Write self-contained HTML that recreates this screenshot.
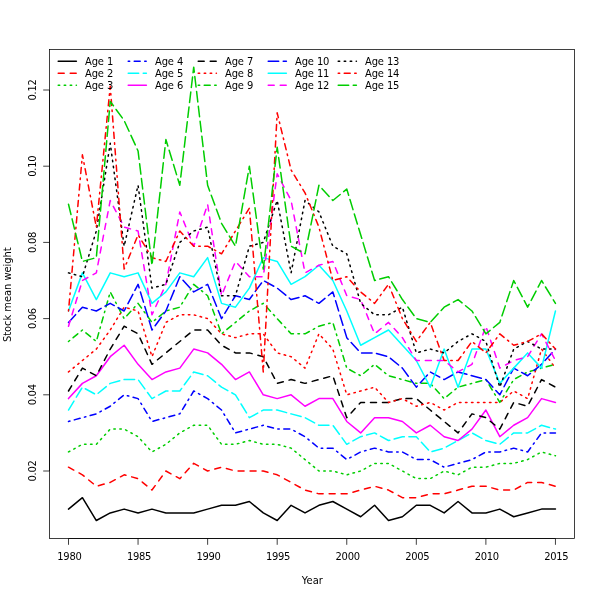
<!DOCTYPE html><html><head><meta charset="utf-8"><title>Stock mean weight</title><style>html,body{margin:0;padding:0;background:#fff}body{width:600px;height:600px;overflow:hidden}</style></head><body><svg width="600" height="600" viewBox="0 0 600 600" style="display:block">
<rect width="600" height="600" fill="#fff"/>
<g fill="none" stroke-width="1.5" stroke-linecap="round" stroke-linejoin="round">
<polyline points="68.50,509.10 82.41,497.67 96.33,520.53 110.24,512.91 124.15,509.10 138.06,512.91 151.98,509.10 165.89,512.91 179.80,512.91 193.72,512.91 207.63,509.10 221.54,505.29 235.46,505.29 249.37,501.48 263.28,512.91 277.19,520.53 291.11,505.29 305.02,512.91 318.93,505.29 332.85,501.48 346.76,509.10 360.67,516.72 374.59,505.29 388.50,520.53 402.41,516.72 416.32,505.29 430.24,505.29 444.15,512.91 458.06,501.48 471.98,512.91 485.89,512.91 499.80,509.10 513.72,516.72 527.63,512.91 541.54,509.10 555.45,509.10" stroke="#000000"/>
<polyline points="68.50,467.19 82.41,474.81 96.33,486.24 110.24,482.43 124.15,474.81 138.06,478.62 151.98,490.05 165.89,471.00 179.80,478.62 193.72,463.38 207.63,471.00 221.54,467.19 235.46,471.00 249.37,471.00 263.28,471.00 277.19,474.81 291.11,482.43 305.02,490.05 318.93,493.86 332.85,493.86 346.76,493.86 360.67,490.05 374.59,486.24 388.50,490.05 402.41,497.67 416.32,497.67 430.24,493.86 444.15,493.86 458.06,490.05 471.98,486.24 485.89,486.24 499.80,490.05 513.72,490.05 527.63,482.43 541.54,482.43 555.45,486.24" stroke="#ff0000" stroke-dasharray="6.0,6.0"/>
<polyline points="68.50,451.95 82.41,444.33 96.33,444.33 110.24,429.09 124.15,429.09 138.06,436.71 151.98,451.95 165.89,444.33 179.80,432.90 193.72,425.28 207.63,425.28 221.54,444.33 235.46,444.33 249.37,440.52 263.28,444.33 277.19,444.33 291.11,448.14 305.02,459.57 318.93,471.00 332.85,471.00 346.76,474.81 360.67,471.00 374.59,463.38 388.50,463.38 402.41,471.00 416.32,478.62 430.24,478.62 444.15,471.00 458.06,474.81 471.98,467.19 485.89,467.19 499.80,463.38 513.72,463.38 527.63,459.57 541.54,451.95 555.45,455.76" stroke="#00cd00" stroke-dasharray="1.5,4.5"/>
<polyline points="68.50,421.47 82.41,417.66 96.33,413.85 110.24,406.23 124.15,394.80 138.06,398.61 151.98,421.47 165.89,417.66 179.80,413.85 193.72,390.99 207.63,398.61 221.54,410.04 235.46,432.90 249.37,429.09 263.28,425.28 277.19,429.09 291.11,429.09 305.02,436.71 318.93,448.14 332.85,448.14 346.76,459.57 360.67,451.95 374.59,448.14 388.50,451.95 402.41,451.95 416.32,459.57 430.24,459.57 444.15,467.19 458.06,463.38 471.98,459.57 485.89,451.95 499.80,451.95 513.72,448.14 527.63,451.95 541.54,432.90 555.45,432.90" stroke="#0000ff" stroke-dasharray="1.5,4.5,6.0,4.5"/>
<polyline points="68.50,410.04 82.41,387.18 96.33,394.80 110.24,383.37 124.15,379.56 138.06,379.56 151.98,398.61 165.89,390.99 179.80,390.99 193.72,371.94 207.63,375.75 221.54,387.18 235.46,394.80 249.37,417.66 263.28,410.04 277.19,410.04 291.11,413.85 305.02,417.66 318.93,425.28 332.85,425.28 346.76,444.33 360.67,436.71 374.59,432.90 388.50,440.52 402.41,436.71 416.32,436.71 430.24,451.95 444.15,448.14 458.06,440.52 471.98,432.90 485.89,440.52 499.80,444.33 513.72,432.90 527.63,432.90 541.54,425.28 555.45,429.09" stroke="#00ffff" stroke-dasharray="10.5,4.5"/>
<polyline points="68.50,398.61 82.41,383.37 96.33,375.75 110.24,356.70 124.15,345.27 138.06,364.32 151.98,379.56 165.89,371.94 179.80,368.13 193.72,349.08 207.63,352.89 221.54,364.32 235.46,379.56 249.37,371.94 263.28,394.80 277.19,398.61 291.11,394.80 305.02,406.23 318.93,398.61 332.85,398.61 346.76,421.47 360.67,432.90 374.59,417.66 388.50,417.66 402.41,421.47 416.32,432.90 430.24,425.28 444.15,436.71 458.06,440.52 471.98,429.09 485.89,410.04 499.80,436.71 513.72,425.28 527.63,417.66 541.54,398.61 555.45,402.42" stroke="#ff00ff"/>
<polyline points="68.50,390.99 82.41,368.13 96.33,375.75 110.24,349.08 124.15,326.22 138.06,333.84 151.98,364.32 165.89,352.89 179.80,341.46 193.72,330.03 207.63,330.03 221.54,345.27 235.46,352.89 249.37,352.89 263.28,356.70 277.19,383.37 291.11,379.56 305.02,383.37 318.93,379.56 332.85,375.75 346.76,417.66 360.67,402.42 374.59,402.42 388.50,402.42 402.41,398.61 416.32,398.61 430.24,410.04 444.15,421.47 458.06,432.90 471.98,413.85 485.89,417.66 499.80,429.09 513.72,402.42 527.63,406.23 541.54,379.56 555.45,387.18" stroke="#000000" stroke-dasharray="6.0,6.0"/>
<polyline points="68.50,371.94 82.41,360.51 96.33,349.08 110.24,330.03 124.15,307.17 138.06,310.98 151.98,356.70 165.89,322.41 179.80,314.79 193.72,314.79 207.63,318.60 221.54,333.84 235.46,337.65 249.37,333.84 263.28,333.84 277.19,352.89 291.11,356.70 305.02,368.13 318.93,333.84 332.85,349.08 346.76,394.80 360.67,390.99 374.59,387.18 388.50,402.42 402.41,398.61 416.32,406.23 430.24,402.42 444.15,410.04 458.06,402.42 471.98,402.42 485.89,402.42 499.80,402.42 513.72,390.99 527.63,398.61 541.54,349.08 555.45,368.13" stroke="#ff0000" stroke-dasharray="1.5,4.5"/>
<polyline points="68.50,341.46 82.41,330.03 96.33,341.46 110.24,291.93 124.15,318.60 138.06,303.36 151.98,322.41 165.89,310.98 179.80,307.17 193.72,284.31 207.63,295.74 221.54,333.84 235.46,322.41 249.37,310.98 263.28,303.36 277.19,318.60 291.11,333.84 305.02,333.84 318.93,326.22 332.85,322.41 346.76,368.13 360.67,375.75 374.59,364.32 388.50,375.75 402.41,379.56 416.32,383.37 430.24,383.37 444.15,398.61 458.06,387.18 471.98,383.37 485.89,379.56 499.80,402.42 513.72,379.56 527.63,371.94 541.54,368.13 555.45,364.32" stroke="#00cd00" stroke-dasharray="1.5,4.5,6.0,4.5"/>
<polyline points="68.50,322.41 82.41,307.17 96.33,310.98 110.24,303.36 124.15,310.98 138.06,284.31 151.98,330.03 165.89,310.98 179.80,276.69 193.72,291.93 207.63,284.31 221.54,318.60 235.46,295.74 249.37,299.55 263.28,280.50 277.19,288.12 291.11,299.55 305.02,295.74 318.93,303.36 332.85,291.93 346.76,337.65 360.67,352.89 374.59,352.89 388.50,356.70 402.41,368.13 416.32,387.18 430.24,371.94 444.15,379.56 458.06,371.94 471.98,375.75 485.89,379.56 499.80,394.80 513.72,368.13 527.63,375.75 541.54,364.32 555.45,349.08" stroke="#0000ff" stroke-dasharray="10.5,4.5"/>
<polyline points="68.50,310.98 82.41,272.88 96.33,299.55 110.24,272.88 124.15,276.69 138.06,272.88 151.98,303.36 165.89,291.93 179.80,272.88 193.72,276.69 207.63,257.64 221.54,303.36 235.46,307.17 249.37,288.12 263.28,257.64 277.19,261.45 291.11,284.31 305.02,276.69 318.93,265.26 332.85,280.50 346.76,310.98 360.67,345.27 374.59,337.65 388.50,330.03 402.41,345.27 416.32,360.51 430.24,387.18 444.15,349.08 458.06,387.18 471.98,349.08 485.89,349.08 499.80,383.37 513.72,368.13 527.63,352.89 541.54,368.13 555.45,310.98" stroke="#00ffff"/>
<polyline points="68.50,326.22 82.41,280.50 96.33,272.88 110.24,200.49 124.15,227.16 138.06,230.97 151.98,314.79 165.89,284.31 179.80,211.92 193.72,246.21 207.63,204.30 221.54,295.74 235.46,261.45 249.37,276.69 263.28,276.69 277.19,173.82 291.11,200.49 305.02,272.88 318.93,265.26 332.85,261.45 346.76,295.74 360.67,299.55 374.59,333.84 388.50,322.41 402.41,337.65 416.32,360.51 430.24,360.51 444.15,360.51 458.06,371.94 471.98,364.32 485.89,326.22 499.80,368.13 513.72,360.51 527.63,356.70 541.54,333.84 555.45,360.51" stroke="#ff00ff" stroke-dasharray="6.0,6.0"/>
<polyline points="68.50,272.88 82.41,276.69 96.33,230.97 110.24,143.34 124.15,246.21 138.06,185.25 151.98,288.12 165.89,284.31 179.80,242.40 193.72,230.97 207.63,227.16 221.54,295.74 235.46,295.74 249.37,246.21 263.28,242.40 277.19,200.49 291.11,272.88 305.02,200.49 318.93,211.92 332.85,246.21 346.76,253.83 360.67,303.36 374.59,314.79 388.50,314.79 402.41,307.17 416.32,352.89 430.24,349.08 444.15,352.89 458.06,341.46 471.98,333.84 485.89,341.46 499.80,387.18 513.72,349.08 527.63,341.46 541.54,349.08 555.45,349.08" stroke="#000000" stroke-dasharray="1.5,4.5"/>
<polyline points="68.50,310.98 82.41,154.77 96.33,227.16 110.24,86.19 124.15,269.07 138.06,234.78 151.98,257.64 165.89,261.45 179.80,230.97 193.72,246.21 207.63,246.21 221.54,253.83 235.46,230.97 249.37,208.11 263.28,371.94 277.19,112.86 291.11,170.01 305.02,192.87 318.93,227.16 332.85,280.50 346.76,276.69 360.67,291.93 374.59,303.36 388.50,284.31 402.41,318.60 416.32,341.46 430.24,322.41 444.15,360.51 458.06,360.51 471.98,341.46 485.89,352.89 499.80,333.84 513.72,345.27 527.63,341.46 541.54,333.84 555.45,349.08" stroke="#ff0000" stroke-dasharray="1.5,4.5,6.0,4.5"/>
<polyline points="68.50,204.30 82.41,261.45 96.33,257.64 110.24,101.43 124.15,120.48 138.06,150.96 151.98,265.26 165.89,139.53 179.80,185.25 193.72,67.14 207.63,185.25 221.54,223.35 235.46,246.21 249.37,166.20 263.28,269.07 277.19,147.15 291.11,246.21 305.02,253.83 318.93,185.25 332.85,200.49 346.76,189.06 360.67,234.78 374.59,280.50 388.50,276.69 402.41,299.55 416.32,318.60 430.24,322.41 444.15,307.17 458.06,299.55 471.98,310.98 485.89,333.84 499.80,322.41 513.72,280.50 527.63,307.17 541.54,280.50 555.45,303.36" stroke="#00cd00" stroke-dasharray="10.5,4.5"/>
</g>
<g fill="none" stroke="#000" stroke-width="0.75">
<line x1="68.50" y1="538.5" x2="555.45" y2="538.5"/>
<line x1="49.5" y1="471.00" x2="49.5" y2="90.00"/>
<rect x="49.5" y="49.5" width="525" height="489"/>
<line x1="68.50" y1="538.5" x2="68.50" y2="544.8"/>
<line x1="138.06" y1="538.5" x2="138.06" y2="544.8"/>
<line x1="207.63" y1="538.5" x2="207.63" y2="544.8"/>
<line x1="277.19" y1="538.5" x2="277.19" y2="544.8"/>
<line x1="346.76" y1="538.5" x2="346.76" y2="544.8"/>
<line x1="416.32" y1="538.5" x2="416.32" y2="544.8"/>
<line x1="485.89" y1="538.5" x2="485.89" y2="544.8"/>
<line x1="555.45" y1="538.5" x2="555.45" y2="544.8"/>
<line x1="49.5" y1="471.00" x2="43.2" y2="471.00"/>
<line x1="49.5" y1="394.80" x2="43.2" y2="394.80"/>
<line x1="49.5" y1="318.60" x2="43.2" y2="318.60"/>
<line x1="49.5" y1="242.40" x2="43.2" y2="242.40"/>
<line x1="49.5" y1="166.20" x2="43.2" y2="166.20"/>
<line x1="49.5" y1="90.00" x2="43.2" y2="90.00"/>
</g>
<g font-family="'DejaVu Sans', 'Liberation Sans', sans-serif" font-size="9.96" fill="#000">
<text x="69.40" y="560" letter-spacing="-0.3" text-anchor="middle">1980</text>
<text x="138.97" y="560" letter-spacing="-0.3" text-anchor="middle">1985</text>
<text x="208.53" y="560" letter-spacing="-0.3" text-anchor="middle">1990</text>
<text x="278.09" y="560" letter-spacing="-0.3" text-anchor="middle">1995</text>
<text x="347.66" y="560" letter-spacing="-0.3" text-anchor="middle">2000</text>
<text x="417.22" y="560" letter-spacing="-0.3" text-anchor="middle">2005</text>
<text x="486.79" y="560" letter-spacing="-0.3" text-anchor="middle">2010</text>
<text x="556.35" y="560" letter-spacing="-0.3" text-anchor="middle">2015</text>
<text transform="translate(35.5,471.00) rotate(-90)" letter-spacing="-0.3" text-anchor="middle">0.02</text>
<text transform="translate(35.5,394.80) rotate(-90)" letter-spacing="-0.3" text-anchor="middle">0.04</text>
<text transform="translate(35.5,318.60) rotate(-90)" letter-spacing="-0.3" text-anchor="middle">0.06</text>
<text transform="translate(35.5,242.40) rotate(-90)" letter-spacing="-0.3" text-anchor="middle">0.08</text>
<text transform="translate(35.5,166.20) rotate(-90)" letter-spacing="-0.3" text-anchor="middle">0.10</text>
<text transform="translate(35.5,90.00) rotate(-90)" letter-spacing="-0.3" text-anchor="middle">0.12</text>
<text x="312.3" y="584" text-anchor="middle">Year</text>
<text transform="translate(11,294.7) rotate(-90)" letter-spacing="-0.06" text-anchor="middle">Stock mean weight</text>
<line x1="58.20" y1="61.20" x2="76.40" y2="61.20" stroke="#000000" stroke-width="1.5" stroke-linecap="round"/>
<text x="85.00" y="64.80" letter-spacing="-0.13">Age 1</text>
<line x1="58.20" y1="73.20" x2="76.40" y2="73.20" stroke="#ff0000" stroke-width="1.5" stroke-linecap="round" stroke-dasharray="6.0,6.0"/>
<text x="85.00" y="76.80" letter-spacing="-0.13">Age 2</text>
<line x1="58.20" y1="85.20" x2="76.40" y2="85.20" stroke="#00cd00" stroke-width="1.5" stroke-linecap="round" stroke-dasharray="1.5,4.5"/>
<text x="85.00" y="88.80" letter-spacing="-0.13">Age 3</text>
<line x1="128.20" y1="61.20" x2="146.40" y2="61.20" stroke="#0000ff" stroke-width="1.5" stroke-linecap="round" stroke-dasharray="1.5,4.5,6.0,4.5"/>
<text x="155.00" y="64.80" letter-spacing="-0.13">Age 4</text>
<line x1="128.20" y1="73.20" x2="146.40" y2="73.20" stroke="#00ffff" stroke-width="1.5" stroke-linecap="round" stroke-dasharray="10.5,4.5"/>
<text x="155.00" y="76.80" letter-spacing="-0.13">Age 5</text>
<line x1="128.20" y1="85.20" x2="146.40" y2="85.20" stroke="#ff00ff" stroke-width="1.5" stroke-linecap="round"/>
<text x="155.00" y="88.80" letter-spacing="-0.13">Age 6</text>
<line x1="198.20" y1="61.20" x2="216.40" y2="61.20" stroke="#000000" stroke-width="1.5" stroke-linecap="round" stroke-dasharray="6.0,6.0"/>
<text x="225.00" y="64.80" letter-spacing="-0.13">Age 7</text>
<line x1="198.20" y1="73.20" x2="216.40" y2="73.20" stroke="#ff0000" stroke-width="1.5" stroke-linecap="round" stroke-dasharray="1.5,4.5"/>
<text x="225.00" y="76.80" letter-spacing="-0.13">Age 8</text>
<line x1="198.20" y1="85.20" x2="216.40" y2="85.20" stroke="#00cd00" stroke-width="1.5" stroke-linecap="round" stroke-dasharray="1.5,4.5,6.0,4.5"/>
<text x="225.00" y="88.80" letter-spacing="-0.13">Age 9</text>
<line x1="268.20" y1="61.20" x2="286.40" y2="61.20" stroke="#0000ff" stroke-width="1.5" stroke-linecap="round" stroke-dasharray="10.5,4.5"/>
<text x="295.00" y="64.80" letter-spacing="-0.13">Age 10</text>
<line x1="268.20" y1="73.20" x2="286.40" y2="73.20" stroke="#00ffff" stroke-width="1.5" stroke-linecap="round"/>
<text x="295.00" y="76.80" letter-spacing="-0.13">Age 11</text>
<line x1="268.20" y1="85.20" x2="286.40" y2="85.20" stroke="#ff00ff" stroke-width="1.5" stroke-linecap="round" stroke-dasharray="6.0,6.0"/>
<text x="295.00" y="88.80" letter-spacing="-0.13">Age 12</text>
<line x1="338.20" y1="61.20" x2="356.40" y2="61.20" stroke="#000000" stroke-width="1.5" stroke-linecap="round" stroke-dasharray="1.5,4.5"/>
<text x="365.00" y="64.80" letter-spacing="-0.13">Age 13</text>
<line x1="338.20" y1="73.20" x2="356.40" y2="73.20" stroke="#ff0000" stroke-width="1.5" stroke-linecap="round" stroke-dasharray="1.5,4.5,6.0,4.5"/>
<text x="365.00" y="76.80" letter-spacing="-0.13">Age 14</text>
<line x1="338.20" y1="85.20" x2="356.40" y2="85.20" stroke="#00cd00" stroke-width="1.5" stroke-linecap="round" stroke-dasharray="10.5,4.5"/>
<text x="365.00" y="88.80" letter-spacing="-0.13">Age 15</text>
</g>
</svg></body></html>
